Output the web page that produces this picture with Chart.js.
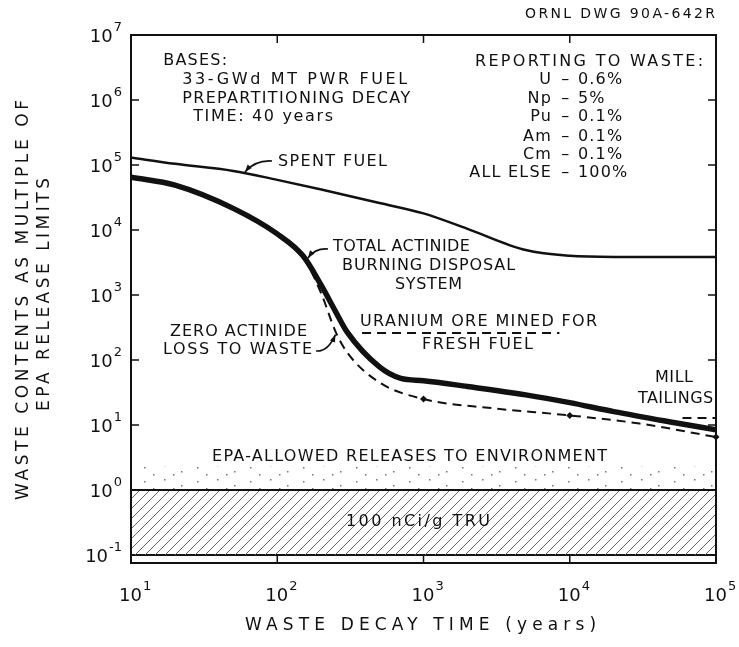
<!DOCTYPE html>
<html>
<head>
<meta charset="utf-8">
<script src="https://cdn.jsdelivr.net/npm/chart.js@4.4.0/dist/chart.umd.min.js"></script>
<style>
  html, body { margin: 0; padding: 0; background: #fff; }
  #wrap { width: 739px; height: 647px; }
</style>
</head>
<body>
<div id="wrap"><canvas id="chart" width="739" height="647"></canvas></div>
<script>
// axis ticks (powers of ten)
const xTicks = [10, 100, 1000, 10000, 100000];
const xTickExps = ["1", "2", "3", "4", "5"];
const yTicks = [0.1, 1, 10, 100, 1e3, 1e4, 1e5, 1e6, 1e7];
const yTickExps = ["-1", "0", "1", "2", "3", "4", "5", "6", "7"];
const yMin = 0.075;

// spent fuel
const spentYears = [10, 20, 50, 100, 200, 500, 1000, 2000, 5000, 10000, 20000, 50000, 100000];
const spentFuel = [1.3e5, 1.04e5, 8.1e4, 5.9e4, 4.2e4, 2.6e4, 1.8e4, 1.04e4, 4.9e3, 4.0e3, 3.85e3, 3.85e3, 3.85e3];

// total actinide burning disposal system
const burnYears = [10, 20, 50, 100, 150, 200, 250, 300, 500, 700, 1000, 2000, 5000, 10000, 20000, 50000, 100000];
const totalBurning = [6.5e4, 4.9e4, 2.15e4, 8.7e3, 4.0e3, 1.4e3, 560, 270, 78, 52, 48, 39, 29, 22, 16, 11, 8.4];

// zero actinide loss to waste (same as above until ~150 y)
const zeroYears = [10, 20, 50, 100, 150, 200, 250, 300, 500, 1000, 3000, 10000, 30000, 100000];
const zeroLoss = [6.5e4, 4.9e4, 2.15e4, 8.7e3, 3.9e3, 1.05e3, 275, 131, 45, 25, 18, 14, 10.5, 6.5];
const zeroMarkers = [1000, 10000, 100000];

// uranium ore mined for fresh fuel, mill tailings
const oreYears = [380, 8500];
const oreLevel = [260, 260];
const millYears = [59000, 100000];
const millLevel = [12.8, 12.8];

// bands
const bandYears = [10, 100000];
const truBand = [0.1, 1];
const epaBand = [1, 2.3];

const reportNames = ["U", "Np", "Pu", "Am", "Cm", "ALL ELSE"];
const reportShares = ["0.6%", "5%", "0.1%", "0.1%", "0.1%", "100%"];

const FONT = '"DejaVu Sans", sans-serif';
const INK = '#111';

function hatchPattern() {
  const c = document.createElement('canvas');
  c.width = 10; c.height = 10;
  const g = c.getContext('2d');
  g.strokeStyle = '#666';
  g.lineWidth = 1;
  g.beginPath();
  g.moveTo(0, 10); g.lineTo(10, 0);
  g.moveTo(-2, 2); g.lineTo(2, -2);
  g.moveTo(8, 12); g.lineTo(12, 8);
  g.stroke();
  return g.createPattern(c, 'repeat');
}

function dotPattern() {
  const c = document.createElement('canvas');
  c.width = 53; c.height = 14;
  const g = c.getContext('2d');
  g.fillStyle = '#777';
  [[5, 3], [22, 9], [38, 5], [47, 12], [14, 12]].forEach(([x, y]) => g.fillRect(x, y, 1.5, 1.5));
  return g.createPattern(c, 'repeat');
}

const pts = (xs, ys) => xs.map((x, i) => ({ x: x, y: ys[i] }));

// text positions as log10(data) coordinates, w = target width in px
const notes = [
  { t: 'BASES:', lx: 1.22, ly: 6.60, w: 64 },
  { t: '33-GWd MT PWR FUEL', lx: 1.35, ly: 6.31, w: 225 },
  { t: 'PREPARTITIONING DECAY', lx: 1.35, ly: 6.015, w: 228 },
  { t: 'TIME: 40 years', lx: 1.425, ly: 5.74, w: 140 },
  { t: 'REPORTING TO WASTE:', lx: 3.352, ly: 6.585, w: 228 },
  { t: 'SPENT FUEL', lx: 2.005, ly: 5.046, w: 109 },
  { t: 'TOTAL ACTINIDE', lx: 2.381, ly: 3.738, w: 137 },
  { t: 'BURNING DISPOSAL', lx: 2.443, ly: 3.446, w: 173 },
  { t: 'SYSTEM', lx: 2.805, ly: 3.154, w: 67 },
  { t: 'ZERO ACTINIDE', lx: 1.267, ly: 2.431, w: 137 },
  { t: 'LOSS TO WASTE', lx: 1.219, ly: 2.154, w: 149 },
  { t: 'URANIUM ORE MINED FOR', lx: 2.566, ly: 2.585, w: 237 },
  { t: 'FRESH FUEL', lx: 2.99, ly: 2.231, w: 111 },
  { t: 'MILL', lx: 4.583, ly: 1.723, w: 38 },
  { t: 'TAILINGS', lx: 4.467, ly: 1.40, w: 75 },
  { t: 'EPA-ALLOWED RELEASES TO ENVIRONMENT', lx: 1.554, ly: 0.508, w: 395 },
  { t: '100 nCi/g TRU', lx: 2.47, ly: -0.492, w: 144 }
];
const reportRowsLy = [6.308, 6.015, 5.738, 5.431, 5.154, 4.877];

// arrows: start, control, end (log10 data coords)
const arrows = [
  [[1.964, 5.062], [1.848, 5.077], [1.779, 4.892]],
  [[2.347, 3.708], [2.258, 3.723], [2.21, 3.569]],
  [[2.265, 2.138], [2.347, 2.123], [2.398, 2.39]]
];

function spacedText(ctx, text, x, y, width) {
  ctx.letterSpacing = '0px';
  const natural = ctx.measureText(text).width;
  const sp = width ? (width - natural) / Math.max(text.length - 1, 1) : 1.5;
  ctx.letterSpacing = sp.toFixed(2) + 'px';
  ctx.fillText(text, x, y);
  ctx.letterSpacing = '0px';
}

// "10" with a raised exponent
function powLabel(ctx, exp, x, y, align) {
  ctx.textAlign = 'left';
  ctx.font = '18px ' + FONT;
  const bw = ctx.measureText('10').width;
  ctx.font = '13px ' + FONT;
  const ew = ctx.measureText(exp).width;
  const total = bw + 1 + ew;
  const left = align === 'right' ? x - total : x - total / 2 + ew / 2;
  ctx.font = '18px ' + FONT;
  ctx.fillText('10', left, y);
  ctx.font = '13px ' + FONT;
  ctx.fillText(exp, left + bw + 1, y - 9);
}

const framePlugin = {
  id: 'frame',
  afterDatasetsDraw(chart) {
    const { ctx, chartArea: a, scales } = chart;
    ctx.save();
    ctx.strokeStyle = INK;
    ctx.lineWidth = 2;
    ctx.strokeRect(a.left, a.top, a.right - a.left, a.bottom - a.top);
    ctx.lineWidth = 1.5;
    ctx.beginPath();
    xTicks.slice(1, -1).forEach(v => {
      const x = scales.x.getPixelForValue(v);
      ctx.moveTo(x, a.bottom); ctx.lineTo(x, a.bottom - 8);
      ctx.moveTo(x, a.top); ctx.lineTo(x, a.top + 8);
    });
    yTicks.slice(2, -1).forEach(v => {
      const y = scales.y.getPixelForValue(v);
      ctx.moveTo(a.left, y); ctx.lineTo(a.left + 8, y);
      ctx.moveTo(a.right, y); ctx.lineTo(a.right - 8, y);
    });
    ctx.stroke();

    // tick labels
    ctx.fillStyle = INK;
    ctx.textBaseline = 'middle';
    yTicks.forEach((v, i) => powLabel(ctx, yTickExps[i], a.left - 9, scales.y.getPixelForValue(v) + 2, 'right'));
    xTicks.forEach((v, i) => powLabel(ctx, xTickExps[i], scales.x.getPixelForValue(v), 596, 'center'));
    ctx.restore();
  }
};

const notesPlugin = {
  id: 'notes',
  afterDraw(chart) {
    const { ctx, scales } = chart;
    const X = lx => scales.x.getPixelForValue(Math.pow(10, lx));
    const Y = ly => scales.y.getPixelForValue(Math.pow(10, ly));
    ctx.save();
    ctx.fillStyle = INK;
    ctx.strokeStyle = INK;
    ctx.textBaseline = 'middle';
    ctx.font = '16px ' + FONT;
    ctx.textAlign = 'left';
    notes.forEach(n => spacedText(ctx, n.t, X(n.lx), Y(n.ly), n.w));

    reportRowsLy.forEach((ly, i) => {
      const y = Y(ly);
      ctx.letterSpacing = '1.2px';
      ctx.textAlign = 'right';
      ctx.fillText(reportNames[i], X(3.879), y);
      ctx.textAlign = 'center';
      ctx.fillText('–', X(3.974), y);
      ctx.textAlign = 'left';
      ctx.fillText(reportShares[i], X(4.056), y);
      ctx.letterSpacing = '0px';
    });

    // arrows
    ctx.lineWidth = 1.6;
    arrows.forEach(([s, c, e]) => {
      const sx = X(s[0]), sy = Y(s[1]), cx = X(c[0]), cy = Y(c[1]), ex = X(e[0]), ey = Y(e[1]);
      ctx.beginPath();
      ctx.moveTo(sx, sy);
      ctx.quadraticCurveTo(cx, cy, ex, ey);
      ctx.stroke();
      const ang = Math.atan2(ey - cy, ex - cx);
      ctx.beginPath();
      ctx.moveTo(ex, ey);
      ctx.lineTo(ex - 8 * Math.cos(ang - 0.35), ey - 8 * Math.sin(ang - 0.35));
      ctx.lineTo(ex - 8 * Math.cos(ang + 0.35), ey - 8 * Math.sin(ang + 0.35));
      ctx.closePath();
      ctx.fill();
    });

    // titles
    ctx.textAlign = 'left';
    ctx.font = '17px ' + FONT;
    spacedText(ctx, 'WASTE DECAY TIME (years)', 245, 626, 351);
    ctx.font = '14px ' + FONT;
    spacedText(ctx, 'ORNL DWG 90A-642R', 525, 14, 190);

    ctx.font = '17px ' + FONT;
    ctx.save();
    ctx.translate(24, 300);
    ctx.rotate(-Math.PI / 2);
    spacedText(ctx, 'WASTE CONTENTS AS MULTIPLE OF', -200, 0, 400);
    ctx.restore();
    ctx.save();
    ctx.translate(45, 294);
    ctx.rotate(-Math.PI / 2);
    spacedText(ctx, 'EPA RELEASE LIMITS', -117, 0, 233);
    ctx.restore();
    ctx.restore();
  }
};

new Chart(document.getElementById('chart'), {
  type: 'line',
  data: {
    datasets: [
      {
        data: pts(burnYears, totalBurning),
        borderColor: INK, borderWidth: 5.5, pointRadius: 0,
        cubicInterpolationMode: 'monotone', order: 1
      },
      {
        data: pts(zeroYears, zeroLoss),
        borderColor: INK, borderWidth: 2, borderDash: [9, 6], clip: false,
        pointRadius: c => zeroMarkers.includes(zeroYears[c.dataIndex]) ? 3.5 : 0,
        pointStyle: 'rectRot', pointBackgroundColor: INK, pointBorderWidth: 0,
        cubicInterpolationMode: 'monotone', order: 2
      },
      {
        data: pts(spentYears, spentFuel),
        borderColor: INK, borderWidth: 2.5, pointRadius: 0,
        cubicInterpolationMode: 'monotone', order: 3
      },
      {
        data: pts(oreYears, oreLevel),
        borderColor: INK, borderWidth: 2, borderDash: [9, 6], pointRadius: 0, order: 4
      },
      {
        data: pts(millYears, millLevel),
        borderColor: INK, borderWidth: 2, borderDash: [9, 6], pointRadius: 0, order: 4
      },
      {
        data: pts(bandYears, [truBand[1], truBand[1]]),
        borderColor: INK, borderWidth: 2, pointRadius: 0,
        fill: { value: truBand[0] }, backgroundColor: hatchPattern(), order: 5
      },
      {
        data: pts(bandYears, [truBand[0], truBand[0]]),
        borderColor: INK, borderWidth: 2, pointRadius: 0, order: 5
      },
      {
        data: pts(bandYears, [epaBand[1], epaBand[1]]),
        borderWidth: 0, borderColor: 'rgba(0,0,0,0)', pointRadius: 0,
        fill: { value: epaBand[0] }, backgroundColor: dotPattern(), order: 6
      }
    ]
  },
  options: {
    responsive: false,
    animation: false,
    layout: { padding: { top: 35, right: 23, left: 0, bottom: 0 } },
    plugins: { legend: { display: false }, tooltip: { enabled: false } },
    scales: {
      x: {
        type: 'logarithmic', min: 10, max: 100000,
        afterBuildTicks: s => { s.ticks = xTicks.map(v => ({ value: v })); },
        afterFit: s => { s.height = 84; },
        ticks: { display: false },
        grid: { display: false, drawTicks: false },
        border: { display: false }
      },
      y: {
        type: 'logarithmic', min: yMin, max: 1e7,
        afterBuildTicks: s => { s.ticks = yTicks.map(v => ({ value: v })); },
        afterFit: s => { s.width = 131; },
        ticks: { display: false },
        grid: { display: false, drawTicks: false },
        border: { display: false }
      }
    }
  },
  plugins: [framePlugin, notesPlugin]
});
</script>
</body>
</html>
